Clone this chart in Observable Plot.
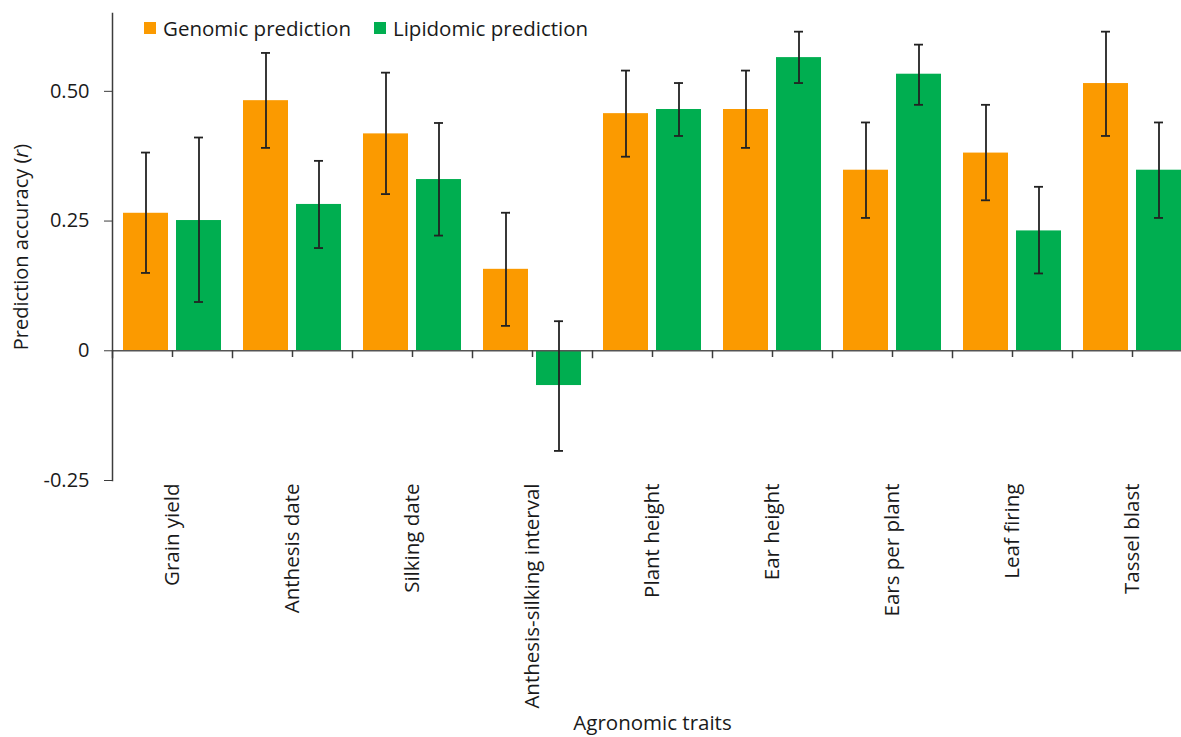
<!DOCTYPE html>
<html>
<head>
<meta charset="utf-8">
<script src="https://cdn.jsdelivr.net/npm/d3@7"></script>
<script src="https://cdn.jsdelivr.net/npm/@observablehq/plot@0.6"></script>
<style>
  html, body { margin: 0; padding: 0; background: #fff; }
  #wrap { position: relative; width: 1181px; height: 737px; overflow: hidden; font-family: "Open Sans", sans-serif; }
  #legend { position: absolute; top: 14px; left: 144px; display: flex; align-items: center; font-size: 20.5px; color: #1a1a1a; white-space: nowrap; }
  #legend .sw { display: inline-block; width: 12px; height: 12px; margin-right: 7px; }
  #legend .item { display: flex; align-items: center; margin-right: 23px; }
</style>
</head>
<body>
<div id="wrap"><div id="chart"></div><div id="legend"></div></div>
<script>
const traits = ["Grain yield", "Anthesis date", "Silking date", "Anthesis-silking interval", "Plant height", "Ear height", "Ears per plant", "Leaf firing", "Tassel blast"];
const series = ["Genomic prediction", "Lipidomic prediction"];
const colors = ["#FB9A00", "#00AE50"];
const genomic     = [0.265, 0.482, 0.418, 0.157, 0.457, 0.465, 0.348, 0.381, 0.515];
const genomicLo   = [0.150, 0.391, 0.302, 0.048, 0.374, 0.391, 0.256, 0.290, 0.414];
const genomicHi   = [0.382, 0.574, 0.536, 0.266, 0.540, 0.540, 0.440, 0.474, 0.615];
const lipidomic   = [0.251, 0.282, 0.330, -0.067, 0.465, 0.565, 0.533, 0.231, 0.348];
const lipidomicLo = [0.094, 0.198, 0.222, -0.193, 0.414, 0.516, 0.474, 0.149, 0.256];
const lipidomicHi = [0.411, 0.366, 0.439, 0.057, 0.516, 0.615, 0.590, 0.316, 0.440];
const yTicks = [-0.25, 0, 0.25, 0.5];
const yTickLabels = ["-0.25", "0", "0.25", "0.50"];

const rows = [];
traits.forEach((t, i) => {
  rows.push({trait: t, series: series[0], value: genomic[i], lo: genomicLo[i], hi: genomicHi[i]});
  rows.push({trait: t, series: series[1], value: lipidomic[i], lo: lipidomicLo[i], hi: lipidomicHi[i]});
});

const ink = "#222";
const axisInk = "#3c3c3c";

const chart = Plot.plot({
  width: 1181,
  height: 737,
  marginLeft: 112,
  marginRight: -11,
  marginTop: 13,
  marginBottom: 257,
  style: {fontFamily: "Open Sans, sans-serif", fontSize: "20px", color: "#1a1a1a", background: "#fff"},
  fx: {domain: traits, padding: 0},
  x: {domain: series, paddingInner: 0.151, paddingOuter: 0.2075, axis: null},
  y: {domain: [-0.25, 0.65]},
  color: {domain: series, range: colors},
  marks: [
    Plot.barY(rows, {fx: "trait", x: "series", y: "value", fill: "series"}),
    Plot.ruleY([0], {stroke: "#555", strokeWidth: 1.5}),
    Plot.frame({anchor: "left", facetAnchor: "left", stroke: axisInk, strokeWidth: 1.5}),
    Plot.frame({anchor: "left", insetTop: 337.3, insetBottom: 123, stroke: axisInk, strokeWidth: 1.5}),
    Plot.ruleX([0], {x: null, insetTop: 337.3, insetBottom: 123, stroke: axisInk, strokeWidth: 1.5}),
    Plot.ruleX(rows, {fx: "trait", x: "series", y1: "lo", y2: "hi", stroke: ink, strokeWidth: 1.8}),
    Plot.tickY(rows, {fx: "trait", x: "series", y: "lo", insetLeft: 18, insetRight: 18, stroke: ink, strokeWidth: 1.8}),
    Plot.tickY(rows, {fx: "trait", x: "series", y: "hi", insetLeft: 18, insetRight: 18, stroke: ink, strokeWidth: 1.8}),
    Plot.axisY({ticks: yTicks, tickSize: 8, tickPadding: 15, stroke: axisInk, fontSize: 20,
      tickFormat: d => yTickLabels[yTicks.indexOf(d)],
      label: "Prediction accuracy (r)", labelAnchor: "center", labelArrow: "none", labelOffset: 99}),
    Plot.axisFx({anchor: "bottom", tickSize: 0, tickPadding: 3, tickRotate: -90, fontSize: 20.5,
      label: "Agronomic traits", labelAnchor: "center", labelArrow: "none", labelOffset: 249})
  ]
});
document.getElementById("chart").appendChild(chart);

// italicize the "r" in the y-axis title
d3.select(chart).selectAll("text").each(function() {
  const el = d3.select(this);
  if (el.text() === "Prediction accuracy (r)") {
    el.text(null);
    el.append("tspan").text("Prediction accuracy (");
    el.append("tspan").attr("font-style", "italic").text("r");
    el.append("tspan").text(")");
  }
});

const legend = d3.select("#legend");
series.forEach((s, i) => {
  const item = legend.append("div").attr("class", "item");
  item.append("span").attr("class", "sw").style("background", colors[i]);
  item.append("span").text(s);
});
</script>
</body>
</html>
